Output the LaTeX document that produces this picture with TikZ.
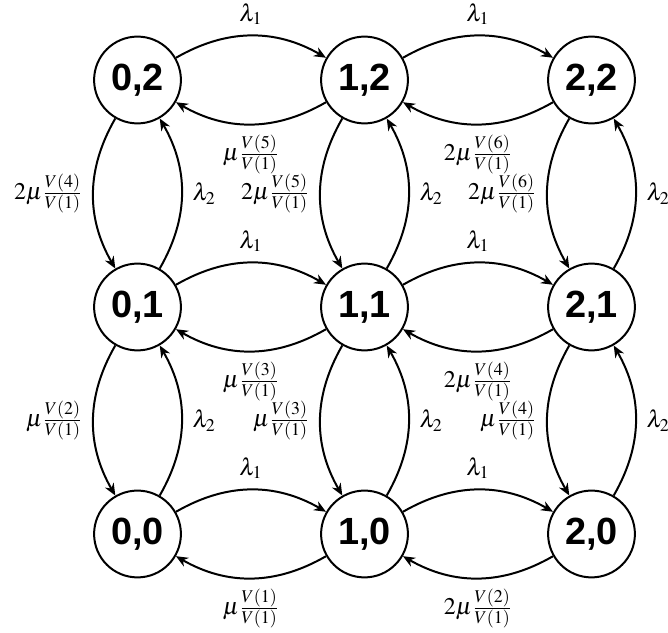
\documentclass[tikz,border=0pt]{standalone}
\usepackage{mathptmx}
\usepackage[no-math]{fontspec}
\setmainfont{Liberation Serif}
\newfontfamily\statefont{Liberation Sans}
\DeclareMathSizes{12}{12}{9}{7}
\usetikzlibrary{arrows.meta}
\tikzset{
	statenode/.style={circle, draw, line width=1pt, minimum size=1.53cm, inner sep=0pt,
		font=\statefont\bfseries\fontsize{19}{22}\selectfont},
	trans/.style={line width=1pt, -{Stealth[length=6pt,width=5pt]}},
	rate/.style={font=\fontsize{12}{14}\selectfont, inner sep=5pt}
}
\begin{document}
\begin{tikzpicture}
		\useasboundingbox	(-2.423, -1.727) rectangle (9.348, 9.41);

		\node[statenode] (s02) at (0, 8) {0,2};
		\node[statenode] (s12) at (4, 8) {1,2};
		\node[statenode] (s22) at (8, 8) {2,2};
		\node[statenode] (s01) at (0, 4) {0,1};
		\node[statenode] (s11) at (4, 4) {1,1};
		\node[statenode] (s21) at (8, 4) {2,1};
		\node[statenode] (s00) at (0, 0) {0,0};
		\node[statenode] (s10) at (4, 0) {1,0};
		\node[statenode] (s20) at (8, 0) {2,0};

		% top row
		\draw[trans]	(s02) to[bend left=30] node[rate, above]{$\lambda_1$} (s12);
		\draw[trans]	(s12) to[bend left=30] node[rate, below]{$\mu\frac{V(5)}{V(1)}$} (s02);
		\draw[trans]	(s12) to[bend left=30] node[rate, above]{$\lambda_1$} (s22);
		\draw[trans]	(s22) to[bend left=30] node[rate, below]{$2\mu\frac{V(6)}{V(1)}$} (s12);

		% middle row
		\draw[trans]	(s01) to[bend left=30] node[rate, above]{$\lambda_1$} (s11);
		\draw[trans]	(s11) to[bend left=30] node[rate, below]{$\mu\frac{V(3)}{V(1)}$} (s01);
		\draw[trans]	(s11) to[bend left=30] node[rate, above]{$\lambda_1$} (s21);
		\draw[trans]	(s21) to[bend left=30] node[rate, below]{$2\mu\frac{V(4)}{V(1)}$} (s11);

		% bottom row
		\draw[trans]	(s00) to[bend left=30] node[rate, above]{$\lambda_1$} (s10);
		\draw[trans]	(s10) to[bend left=30] node[rate, below]{$\mu\frac{V(1)}{V(1)}$} (s00);
		\draw[trans]	(s10) to[bend left=30] node[rate, above]{$\lambda_1$} (s20);
		\draw[trans]	(s20) to[bend left=30] node[rate, below]{$2\mu\frac{V(2)}{V(1)}$} (s10);

		% upper columns
		\draw[trans]	(s02) to[bend right=30] node[rate, left]{$2\mu\frac{V(4)}{V(1)}$} (s01);
		\draw[trans]	(s01) to[bend right=30] node[rate, right]{$\lambda_2$} (s02);
		\draw[trans]	(s12) to[bend right=30] node[rate, left]{$2\mu\frac{V(5)}{V(1)}$} (s11);
		\draw[trans]	(s11) to[bend right=30] node[rate, right]{$\lambda_2$} (s12);
		\draw[trans]	(s22) to[bend right=30] node[rate, left]{$2\mu\frac{V(6)}{V(1)}$} (s21);
		\draw[trans]	(s21) to[bend right=30] node[rate, right]{$\lambda_2$} (s22);

		% lower columns
		\draw[trans]	(s01) to[bend right=30] node[rate, left]{$\mu\frac{V(2)}{V(1)}$} (s00);
		\draw[trans]	(s00) to[bend right=30] node[rate, right]{$\lambda_2$} (s01);
		\draw[trans]	(s11) to[bend right=30] node[rate, left]{$\mu\frac{V(3)}{V(1)}$} (s10);
		\draw[trans]	(s10) to[bend right=30] node[rate, right]{$\lambda_2$} (s11);
		\draw[trans]	(s21) to[bend right=30] node[rate, left]{$\mu\frac{V(4)}{V(1)}$} (s20);
		\draw[trans]	(s20) to[bend right=30] node[rate, right]{$\lambda_2$} (s21);
	\end{tikzpicture}
\end{document}
